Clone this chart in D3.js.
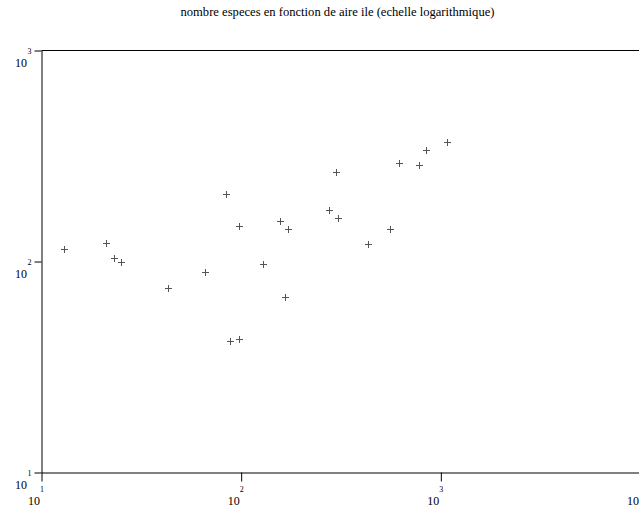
<!DOCTYPE html>
<html>
<head>
<meta charset="utf-8">
<script src="https://cdn.jsdelivr.net/npm/d3@7"></script>
<style>
  body { margin: 0; background: #fff; }
</style>
</head>
<body>
<div id="chart"></div>
<script>
var w = 639;
var h = 508;
var police = "'Liberation Serif', 'DejaVu Serif', 'Times New Roman', serif";

// aire de l'ile (km2) et nombre d'especes
var aire = [13, 21, 23, 25, 43, 66, 84, 98, 88, 97, 128, 157, 172, 166, 276, 304, 300, 430, 558, 614, 774, 846, 1078];
var especes = [115, 122, 104, 99, 75, 89, 210, 148, 42, 43, 97, 155, 142, 68, 175, 160, 266, 121, 143, 294, 286, 339, 367];

var xTicks = [10, 100, 1000, 10000];
var yTicks = [10, 100, 1000];
var titre = "nombre especes en fonction de aire ile (echelle logarithmique)";

var xScale = d3.scaleLog().domain([10, 10000]).range([41.5, 640.5]);
var yScale = d3.scaleLog().domain([10, 1000]).range([472.5, 50.5]);

var svg = d3.select("#chart")
            .append("svg")
            .attr("width", w)
            .attr("height", h)
            .style("font-family", police);

// titre
svg.append("text")
    .attr("x", 337.5)
    .attr("y", 16)
    .attr("text-anchor", "middle")
    .attr("fill", "#000")
    .style("font-family", police)
    .style("font-size", "12.6px")
    .text(titre);

// ligne du haut du cadre
svg.append("line")
    .attr("x1", xScale(10)).attr("x2", xScale(10000))
    .attr("y1", yScale(1000)).attr("y2", yScale(1000))
    .attr("stroke", "#000");

//x axis
var xAxis = d3.axisBottom(xScale)
                .tickValues(xTicks)
                .tickSize(9)
                .tickSizeOuter(0)
                .tickFormat(function() { return ""; });

var gx = svg.append("g")
    .attr("transform", "translate(0," + yScale(10) + ")")
    .call(xAxis);

//y axis
var yAxis = d3.axisLeft(yScale)
                .tickValues(yTicks)
                .tickSize(7)
                .tickSizeOuter(0)
                .tickFormat(function() { return ""; });

var gy = svg.append("g")
    .attr("transform", "translate(" + xScale(10) + ",0)")
    .call(yAxis);

svg.selectAll(".domain, .tick line").attr("stroke", "#000");
gx.attr("font-family", null);
gy.attr("font-family", null);

// labels 10^n
function etiquette(t, d, x10, y10, xe, ye) {
    t.append("text")
        .attr("x", x10).attr("y", y10)
        .attr("text-anchor", "end")
        .attr("fill", "#000")
        .style("font-family", police)
        .style("font-size", "12px")
        .text("10");
    t.append("text")
        .attr("x", xe).attr("y", ye)
        .attr("text-anchor", "start")
        .attr("fill", "#000")
        .style("font-family", police)
        .style("font-size", "8px")
        .text(Math.round(Math.log10(d)));
}

gx.selectAll(".tick").each(function(d) {
    etiquette(d3.select(this), d, -2, 32.5, -2, 19.5);
});

gy.selectAll(".tick").each(function(d) {
    etiquette(d3.select(this), d, -14.5, 16, -14, 3);
});

// points "+"
svg.selectAll(".pt")
    .data(aire)
    .enter()
    .append("path")
    .attr("class", "pt")
    .attr("transform", function(d, i) {
        return "translate(" + (Math.round(xScale(d)) + 0.5) + "," + (Math.round(yScale(especes[i])) + 0.5) + ")";
    })
    .attr("d", "M-3.5,0H3.5M0,-3.5V3.5")
    .attr("stroke", "#555")
    .attr("fill", "none");
</script>
</body>
</html>
